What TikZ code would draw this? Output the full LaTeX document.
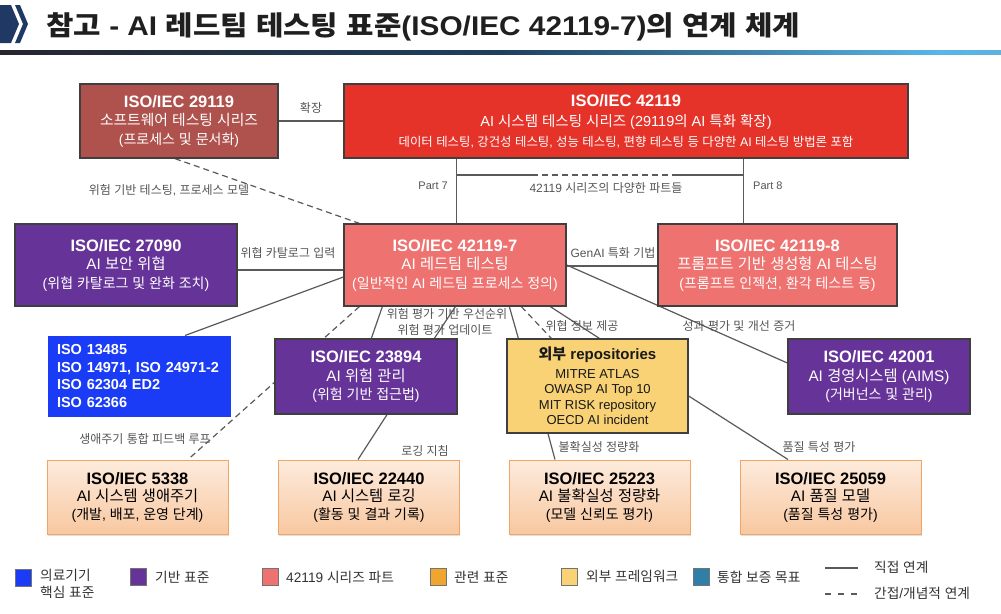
\documentclass[tikz,border=0pt]{standalone}
\usepackage{fontspec}
\usepackage{graphicx}
\setmainfont{Liberation Sans}
\newfontfamily\krfam{Noto Sans CJK KR}
\XeTeXinterchartokenstate=1
\count255="AC00
\loop
  \XeTeXcharclass\count255=10
  \ifnum\count255<"D7A3
  \advance\count255 by 1
\repeat
\XeTeXinterchartoks 0 10 = {\krfam}
\XeTeXinterchartoks 4095 10 = {\krfam}
\XeTeXinterchartoks 10 0 = {\rmfamily}
\XeTeXinterchartoks 10 4095 = {\rmfamily}
\usetikzlibrary{backgrounds,shadows}
\definecolor{c29119}{HTML}{AF524E}
\definecolor{cred}{HTML}{E6332A}
\definecolor{csalmon}{HTML}{EE726F}
\definecolor{cpurple}{HTML}{663399}
\definecolor{cblue}{HTML}{1A3CF6}
\definecolor{cyellow}{HTML}{F8D275}
\definecolor{cpeachT}{HTML}{FDEBDD}
\definecolor{cpeachB}{HTML}{F8C8A0}
\definecolor{cpeachD}{HTML}{F0A565}
\definecolor{corange}{HTML}{F0A52E}
\definecolor{cteal}{HTML}{2F7FA8}
\definecolor{cline}{HTML}{5A5A5A}
\definecolor{cborder}{HTML}{3F3F3F}
\definecolor{clabel}{HTML}{555555}
\definecolor{cnavy}{HTML}{203864}
\definecolor{gA}{HTML}{26262E}
\definecolor{gB}{HTML}{1F3F5E}
\definecolor{gC}{HTML}{58B6E8}
\definecolor{gD}{HTML}{7D8590}
\pgfdeclarehorizontalshading{titlebar}{100bp}{color(0bp)=(gA); color(25bp)=(gA); color(50bp)=(gB); color(72bp)=(gC); color(100bp)=(gD)}
\newcommand\bt[1]{{\bfseries\fontsize{16.5}{19}\selectfont #1}}
\newcommand\sub[1]{{\fontsize{15.3}{18.5}\selectfont #1}}
\tikzset{
  box/.style={draw=cborder, line width=1.3pt, inner sep=0pt, align=center, text=white, font=\fontsize{14}{18.5}\selectfont},
  peach/.style={draw=cpeachD, line width=1pt, top color=cpeachT, bottom color=cpeachB, text=black, inner sep=0pt, align=center, font=\fontsize{14}{17.5}\selectfont, minimum width=181pt, minimum height=74pt, drop shadow={shadow xshift=0.8pt, shadow yshift=-1.5pt, opacity=0.25}},
  conn/.style={draw=cline, line width=1.2pt},
  dconn/.style={conn, dash pattern=on 6pt off 4pt},
  lbl/.style={text=clabel, font=\fontsize{12}{14}\selectfont, inner sep=0pt},
  legbox/.style={draw=black!55, line width=0.7pt, minimum width=16pt, minimum height=17pt, inner sep=0pt},
  legt/.style={font=\fontsize{13.7}{17.5}\selectfont, text=black!80, anchor=west, align=left, inner sep=0pt}
}
\begin{document}
\begin{tikzpicture}[x=1pt,y=-1pt]
\useasboundingbox (0,0) rectangle (1001,613);
% title
\fill[cnavy] (0,5) -- (11,5) -- (19,24) -- (11,43) -- (0,43) -- cycle;
\fill[cnavy] (15,5) -- (20,5) -- (28,24) -- (20,43) -- (15,43) -- (23,24) -- cycle;
\node[anchor=base west, inner sep=0pt, text=black!88] (title) at (46,35) {\resizebox{754pt}{\height}{\bfseries\fontsize{27}{27}\selectfont 참고 - AI 레드팀 테스팅 표준(ISO/IEC 42119-7)의 연계 체계}};
\fill[shading=titlebar] (0,50) rectangle (1001,54.5);

% row 1
\node[box, fill=c29119, minimum width=198pt, minimum height=74pt] (n29119) at (179,121) {\bt{ISO/IEC 29119}\\{\fontsize{14.8}{18.5}\selectfont 소프트웨어 테스팅 시리즈}\\(프로세스 및 문서화)};
\node[box, fill=cred, minimum width=564pt, minimum height=74pt, font=\fontsize{14.5}{20}\selectfont] (n42119) at (626,121) {\bt{ISO/IEC 42119}\\AI 시스템 테스팅 시리즈 (29119의 AI 특화 확장)\\{\fontsize{12.4}{20}\selectfont 데이터 테스팅, 강건성 테스팅, 성능 테스팅, 편향 테스팅 등 다양한 AI 테스팅 방법론 포함}};

% row 2
\node[box, fill=cpurple, minimum width=222pt, minimum height=82pt] (n27090) at (126,265) {\bt{ISO/IEC 27090}\\\sub{AI 보안 위협}\\(위협 카탈로그 및 완화 조치)};
\node[box, fill=csalmon, minimum width=222pt, minimum height=82pt] (n421197) at (455,265) {\bt{ISO/IEC 42119-7}\\\sub{AI 레드팀 테스팅}\\(일반적인 AI 레드팀 프로세스 정의)};
\node[box, fill=csalmon, minimum width=239pt, minimum height=82pt] (n421198) at (777.5,265) {\bt{ISO/IEC 42119-8}\\\sub{프롬프트 기반 생성형 AI 테스팅}\\(프롬프트 인젝션, 환각 테스트 등)};

% row 3
\node[draw=cblue, fill=cblue, line width=1pt, text=white, align=left, text width=164pt, inner xsep=9pt, inner ysep=0pt, minimum height=80pt, font=\bfseries\fontsize{14.5}{17.5}\selectfont] (niso) at (139,376) {ISO 13485\\ISO 14971, ISO 24971-2\\ISO 62304 ED2\\ISO 62366};
\node[box, fill=cpurple, minimum width=182pt, minimum height=75pt] (n23894) at (366,376.5) {\bt{ISO/IEC 23894}\\\sub{AI 위험 관리}\\(위험 기반 접근법)};
\node[box, fill=cyellow, text=black!90, minimum width=181pt, minimum height=94pt, font=\fontsize{13}{15.5}\selectfont] (nrepo) at (597.5,386) {{\bfseries\fontsize{15}{15.5}\selectfont 외부 repositories}\\[3pt]MITRE ATLAS\\OWASP AI Top 10\\MIT RISK repository\\OECD AI incident};
\node[box, fill=cpurple, minimum width=182pt, minimum height=75pt] (n42001) at (879,376.5) {\bt{ISO/IEC 42001}\\\sub{AI 경영시스템 (AIMS)}\\(거버넌스 및 관리)};

% row 4
\node[peach] (n5338) at (137.5,497) {\bt{ISO/IEC 5338}\\\sub{AI 시스템 생애주기}\\(개발, 배포, 운영 단계)};
\node[peach] (n22440) at (369,497) {\bt{ISO/IEC 22440}\\\sub{AI 시스템 로깅}\\(활동 및 결과 기록)};
\node[peach] (n25223) at (599.5,497) {\bt{ISO/IEC 25223}\\\sub{AI 불확실성 정량화}\\(모델 신뢰도 평가)};
\node[peach] (n25059) at (830.5,497) {\bt{ISO/IEC 25059}\\\sub{AI 품질 모델}\\(품질 특성 평가)};

% connectors (behind boxes)
\begin{pgfonlayer}{background}
\fill[white] (0,0) rectangle (1001,613);
\draw[conn] (n29119.east) -- (n42119.west);
\draw[conn] ([xshift=113pt]n42119.south west) -- ([xshift=113pt]n421197.north west);
\draw[conn] ([xshift=400pt]n42119.south west) -- ([xshift=86pt]n421198.north west);
\coordinate (h1) at (457,175);
\coordinate (h2) at (532,175);
\coordinate (h3) at (673,175);
\coordinate (h4) at (744,175);
\draw[conn] (h1) -- (h2);
\draw[dconn] (h2) -- (h3);
\draw[conn] (h3) -- (h4);
\draw[dconn] ([xshift=-4pt]n29119.south) -- ([xshift=16pt]n421197.north west);
\draw[conn] ([yshift=-5pt]n27090.east) -- ([yshift=-5pt]n421197.west);
\draw[conn] ([yshift=-1pt]n421197.east) -- ([yshift=-1pt]n421198.west);
\draw[conn] ([yshift=-12pt]n421197.west) -- ([xshift=46pt]niso.north);
\draw[dconn] ([xshift=16pt]n421197.south west) -- ([xshift=50.5pt]n5338.north);
\draw[conn] ([xshift=39pt]n421197.south west) -- ([xshift=97pt]n23894.north west);
\draw[conn] ([xshift=112pt]n421197.south west) -- ([xshift=160pt]n23894.north west);
\draw[conn] ([xshift=166pt]n421197.south west) -- ([xshift=12pt]nrepo.north west);
\draw[dconn] ([xshift=178pt]n421197.south west) -- ([xshift=45pt]nrepo.north west);
\draw[conn] ([xshift=207pt]n421197.south west) -- ([xshift=93pt]nrepo.north west);
\draw[conn] (n421197.east) -- ([yshift=13.5pt]n42001.west);
\draw[conn] ([xshift=21pt]n23894.south) -- ([xshift=-11pt]n22440.north);
\draw[conn] ([xshift=-49.5pt]nrepo.south) -- ([xshift=-44.5pt]n25223.north);
\draw[conn] ([yshift=-10pt]nrepo.east) -- ([xshift=-42.5pt]n25059.north);
\end{pgfonlayer}

% connector labels
\node[lbl] (l1) at (311,108) {확장};
\node[lbl, anchor=east, font=\fontsize{11}{13}\selectfont] (l2) at (448,186) {Part 7};
\node[lbl] (l3) at (606,188) {42119 시리즈의 다양한 파트들};
\node[lbl, anchor=west, font=\fontsize{11}{13}\selectfont] (l4) at (753,186) {Part 8};
\node[lbl] (l5) at (169,190) {위험 기반 테스팅, 프로세스 모델};
\node[lbl] (l6) at (288,253) {위협 카탈로그 입력};
\node[lbl] (l7) at (613,253) {GenAI 특화 기법};
\node[lbl] (l8) at (447,314) {위험 평가 기반 우선순위};
\node[lbl] (l9) at (445,330) {위험 평가 업데이트};
\node[lbl] (l10) at (582,326) {위협 정보 제공};
\node[lbl] (l11) at (739,326) {성과 평가 및 개선 증거};
\node[lbl] (l12) at (145,439) {생애주기 통합 피드백 루프};
\node[lbl] (l13) at (425,451) {로깅 지침};
\node[lbl] (l14) at (599,447) {불확실성 정량화};
\node[lbl] (l15) at (819,447) {품질 특성 평가};

% legend
\node[legbox, fill=cblue] (g1) at (23.5,577.5) {};
\node[legt] (g1t) at (40,584) {의료기기\\핵심 표준};
\node[legbox, fill=cpurple] (g2) at (138.5,577) {};
\node[legt] (g2t) at (155,577) {기반 표준};
\node[legbox, fill=csalmon] (g3) at (270,577) {};
\node[legt] (g3t) at (286,577) {42119 시리즈 파트};
\node[legbox, fill=corange] (g4) at (438,577) {};
\node[legt] (g4t) at (454,577) {관련 표준};
\node[legbox, fill=cyellow] (g5) at (569.5,576.5) {};
\node[legt] (g5t) at (586,576.5) {외부 프레임워크};
\node[legbox, fill=cteal] (g6) at (701,577) {};
\node[legt] (g6t) at (717,577) {통합 보증 목표};
\coordinate (s1) at (825,568);
\coordinate (s2) at (858,568);
\draw[conn] (s1) -- (s2);
\node[legt] (g7t) at (874,567) {직접 연계};
\coordinate (d1) at (825,594);
\coordinate (d2) at (858,594);
\draw[conn, dash pattern=on 6pt off 7pt] (d1) -- (d2);
\node[legt] (g8t) at (874,593) {간접/개념적 연계};
\end{tikzpicture}
\end{document}
